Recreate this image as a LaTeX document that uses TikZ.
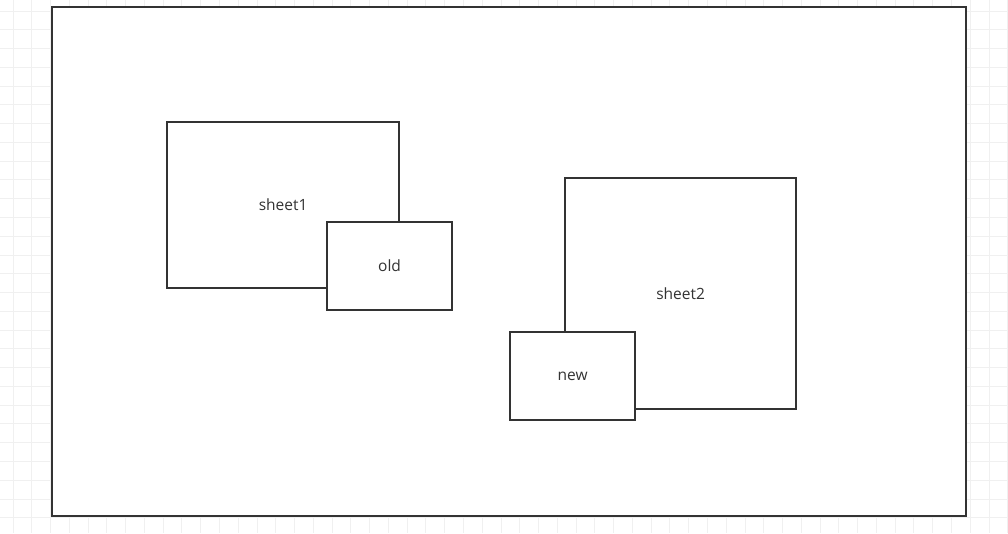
\documentclass[tikz,border=0pt]{standalone}
\usepackage{fontspec}
\setmainfont{Open Sans}
\begin{document}
\begin{tikzpicture}[x=1pt,y=-1pt,
  box/.style={draw=black!80, line width=2.2pt, fill=white, inner sep=0pt, anchor=north west,
    font=\fontsize{15.5}{18}\selectfont, text=black!80}]
\useasboundingbox (0,0) rectangle (1008,533);
\fill[white] (0,0) rectangle (1008,533);
\foreach \i in {0,...,53} {
  \draw[line width=1pt, black!6] ({13+18.77*\i},0) -- ({13+18.77*\i},533);
}
\foreach \j in {0,...,28} {
  \draw[line width=1pt, black!6] (0,{11+18.77*\j}) -- (1008,{11+18.77*\j});
}
\node[box, minimum width=914pt, minimum height=509pt] (frame) at (51,6) {};
\node[box, minimum width=232pt, minimum height=166pt] (sheet1) at (166,121) {sheet1};
\node[box, minimum width=125pt, minimum height=88pt] (old) at (326,221) {old};
\node[box, minimum width=231pt, minimum height=230.5pt] (sheet2) at (564,177) {sheet2};
\node[box, minimum width=125pt, minimum height=88pt] (new) at (509,331) {new};
\end{tikzpicture}
\end{document}
